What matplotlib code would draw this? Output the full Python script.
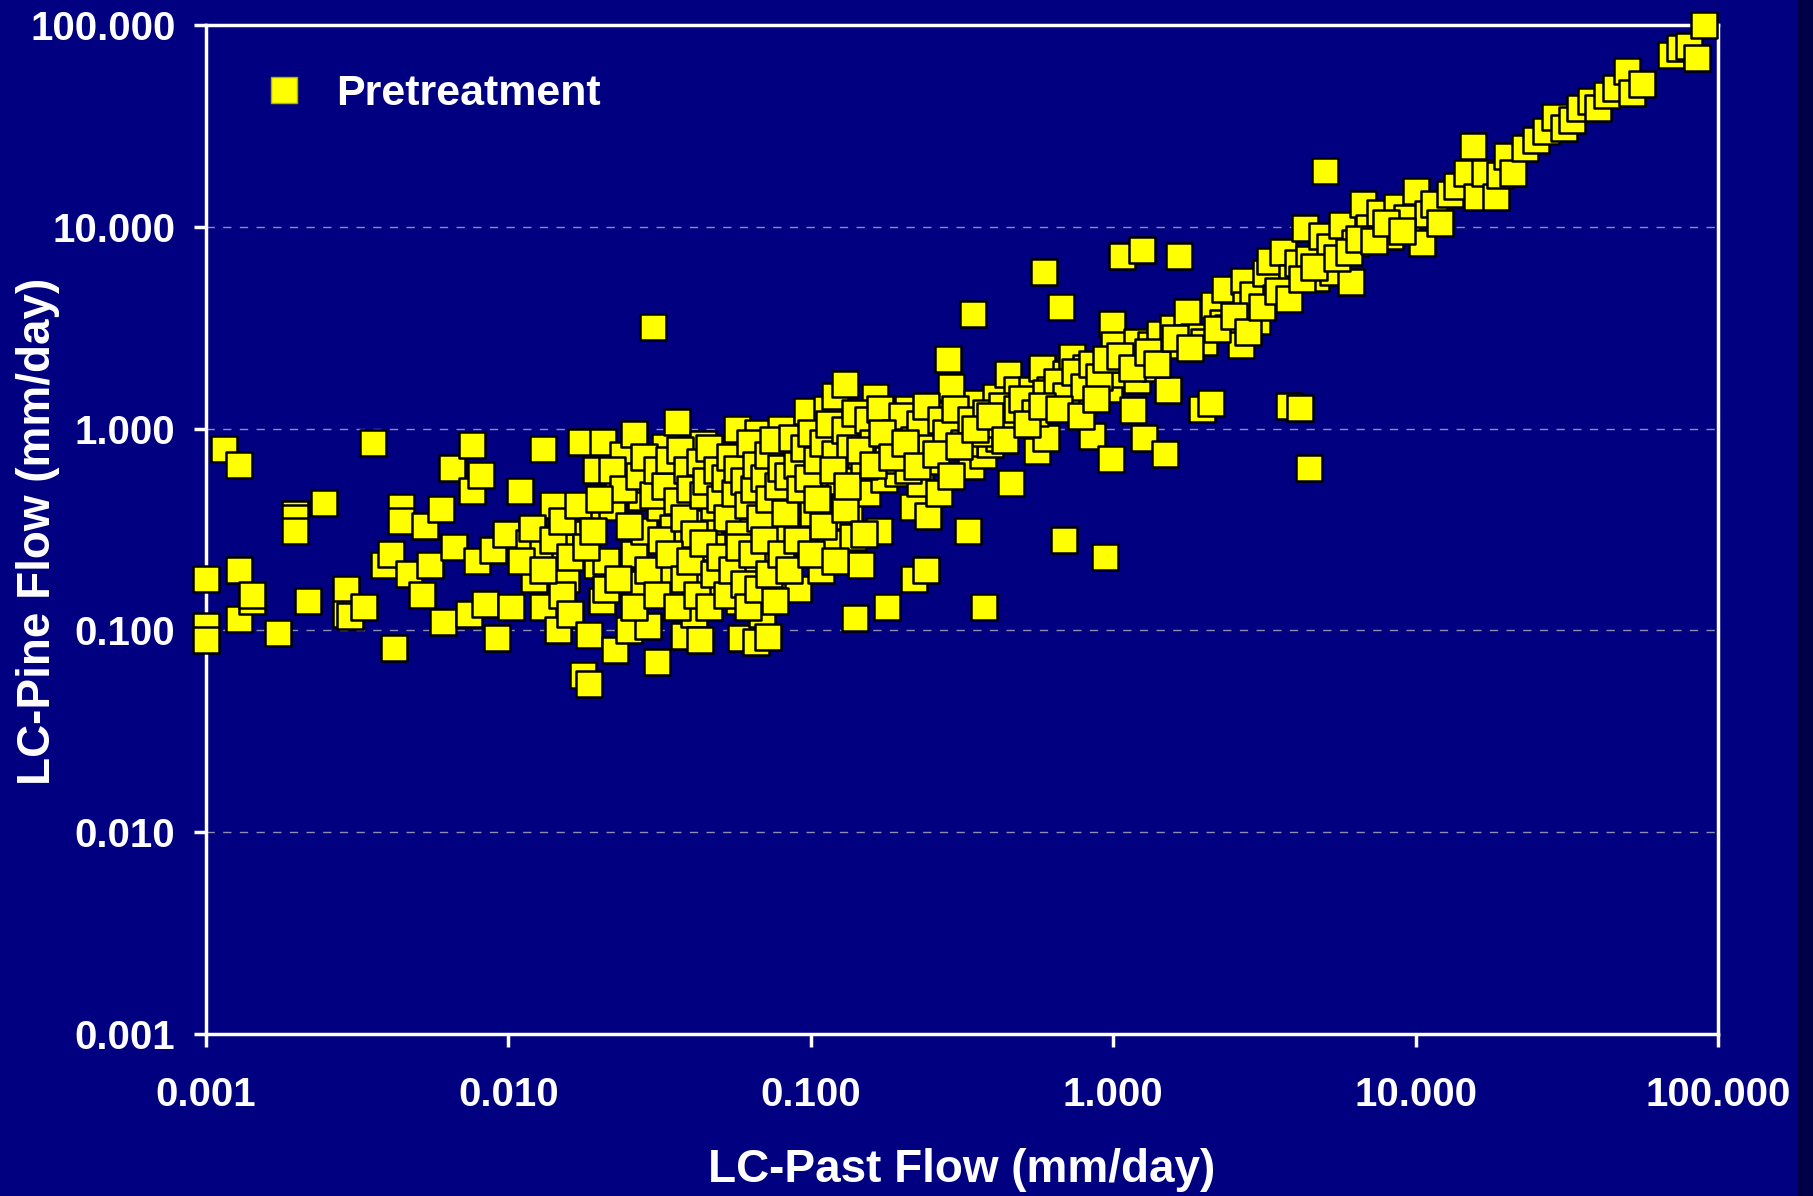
import matplotlib.pyplot as plt
from matplotlib.lines import Line2D
from matplotlib.patches import Rectangle

plt.rcParams['font.family'] = ['Liberation Sans', 'DejaVu Sans']
plt.rcParams['font.weight'] = 'bold'

# LC-Past flow (x) vs LC-Pine flow (y), mm/day
past_flow = [
    0.001, 0.001, 0.001, 0.00115, 0.00129, 0.00129, 0.00129, 0.00142, 0.00142, 0.00173,
    0.00197, 0.00197, 0.00197, 0.00217, 0.00245, 0.0029, 0.0029, 0.0030, 0.00334, 0.00358,
    0.00388, 0.0041, 0.0042, 0.0044, 0.0044, 0.0047, 0.0052, 0.0053, 0.0055, 0.0060,
    0.0061, 0.0065, 0.0066, 0.0074, 0.0076, 0.0076, 0.0081, 0.0079, 0.0084, 0.0089,
    0.0092,
    0.0098, 0.0102, 0.0109, 0.0117, 0.0122, 0.013, 0.013, 0.013, 0.0141, 0.0146,
    0.0154, 0.0155, 0.015, 0.016, 0.0174, 0.0177, 0.018, 0.0185, 0.0185, 0.019,
    0.0195, 0.0196, 0.0205, 0.0204, 0.021, 0.022, 0.0226, 0.023, 0.024, 0.025,
    0.026, 0.026, 0.027, 0.0275, 0.028, 0.029, 0.029, 0.030, 0.031, 0.0318,
    0.033, 0.034, 0.035, 0.036, 0.034, 0.037, 0.038, 0.039, 0.041, 0.042,
    0.043, 0.044, 0.045, 0.046, 0.048, 0.049, 0.051, 0.052, 0.055, 0.057,
    0.058, 0.059, 0.061, 0.063, 0.064, 0.066, 0.067, 0.069, 0.071, 0.072,
    0.074, 0.076, 0.077, 0.08, 0.083, 0.086, 0.089, 0.091, 0.094,
    0.097, 0.102, 0.108, 0.113, 0.115, 0.117, 0.12, 0.126, 0.13, 0.134,
    0.138, 0.138, 0.14, 0.147, 0.154, 0.157, 0.163, 0.168, 0.175, 0.178,
    0.188, 0.195, 0.2, 0.21, 0.217, 0.22, 0.23, 0.24, 0.245, 0.25,
    0.26, 0.265, 0.285, 0.29, 0.3, 0.315, 0.33, 0.34, 0.345, 0.355,
    0.37, 0.375, 0.39, 0.41, 0.42, 0.45, 0.46, 0.48, 0.51, 0.54,
    0.56, 0.58, 0.59, 0.6, 0.62, 0.65, 0.67, 0.69, 0.7, 0.73,
    0.76, 0.79, 0.81, 0.85, 0.89, 0.94, 0.97, 0.98, 0.99,
    1.01, 1.07, 1.07, 1.11, 1.16, 1.2, 1.2, 1.25, 1.26, 1.33,
    1.38, 1.43, 1.48, 1.52, 1.58, 1.65, 1.69, 1.75, 1.85, 1.96,
    2.0, 2.1, 2.15, 2.3, 2.35, 2.4, 2.65, 2.7, 2.75, 2.9,
    3.0, 3.2, 3.3, 3.45, 3.65, 3.8, 3.9, 4.1, 4.15, 4.3,
    4.45, 4.45, 4.7, 4.9, 5.0, 5.2, 5.35, 5.7, 6.1, 6.3,
    6.7, 7.0, 7.6, 8.2, 8.7, 9.4, 10.0,
    10.5, 11, 11.5, 12, 13, 13.7, 14.8, 15.5, 16, 17,
    18.5, 19, 20, 21, 23, 25, 27, 29, 31, 33,
    35, 38, 40, 43, 46, 50, 52, 56, 70, 75,
    80, 85, 90,
    # dense upper band
    0.022, 0.024, 0.025, 0.027, 0.028, 0.030, 0.031, 0.032, 0.033, 0.034,
    0.036, 0.037, 0.038, 0.039, 0.040, 0.041, 0.043, 0.044, 0.045, 0.046,
    0.047, 0.049, 0.050, 0.052, 0.053, 0.054, 0.056, 0.057, 0.058, 0.060,
    0.062, 0.063, 0.065, 0.066, 0.068, 0.070, 0.072, 0.073, 0.075, 0.078,
    0.080, 0.082, 0.084, 0.087, 0.090, 0.092, 0.095, 0.098, 0.10, 0.105,
    0.11, 0.115, 0.12, 0.125, 0.13, 0.135, 0.14, 0.15, 0.155, 0.16,
    0.17, 0.18, 0.19, 0.20, 0.21, 0.22, 0.23, 0.24, 0.25, 0.27,
    0.28, 0.30, 0.32, 0.34, 0.36, 0.38, 0.40, 0.43, 0.45, 0.48,
    0.50, 0.55, 0.60, 0.65, 0.70, 0.75, 0.80, 0.85, 0.90, 0.95,
    # dense lower band
    0.021, 0.023, 0.026, 0.029, 0.031, 0.034, 0.036, 0.038, 0.040, 0.042,
    0.044, 0.046, 0.048, 0.050, 0.053, 0.055, 0.058, 0.060, 0.062, 0.064,
    0.067, 0.070, 0.073, 0.076, 0.080, 0.085, 0.090, 0.10, 0.11, 0.12,
    0.13, 0.15,
    0.011, 0.012, 0.013, 0.014, 0.015, 0.016, 0.017, 0.018, 0.019, 0.02,
    # 1-10 band
    1.05, 1.15, 1.3, 1.4, 1.6, 1.8, 2.2, 2.5, 2.8, 3.1,
    3.5, 3.8, 4.2, 4.6, 5.5, 6.0, 6.5, 7.3, 8.0, 9.0,
    # extra fill in the 0.1-1 band
    0.105, 0.118, 0.132, 0.145, 0.16, 0.172, 0.185, 0.205, 0.225, 0.26,
    0.29, 0.31, 0.35, 0.39, 0.44, 0.52, 0.58, 0.66, 0.78, 0.88,
]
pine_flow = [
    0.18, 0.105, 0.09, 0.79, 0.66, 0.2, 0.114, 0.14, 0.15, 0.097,
    0.377, 0.36, 0.31, 0.14, 0.43, 0.16, 0.12, 0.118, 0.13, 0.85,
    0.21, 0.24, 0.082, 0.41, 0.35, 0.19, 0.15, 0.33, 0.21, 0.40,
    0.11, 0.64, 0.26, 0.12, 0.83, 0.49, 0.59, 0.22, 0.135, 0.25,
    0.092,
    0.30, 0.13, 0.49, 0.27, 0.18, 0.79, 0.26, 0.13, 0.42, 0.10,
    0.26, 0.18, 0.15, 0.12, 0.86, 0.06, 0.3, 0.054, 0.095, 0.37,
    0.62, 0.21, 0.86, 0.14, 0.16, 0.41, 0.08, 0.54, 0.74, 0.10,
    0.94, 0.24, 0.17, 0.46, 0.31, 0.105, 0.56, 3.2, 0.07, 0.41,
    0.81, 0.16, 0.32, 1.08, 0.2, 0.53, 0.094, 0.27, 0.12, 0.60,
    0.09, 0.84, 0.20, 0.34, 0.41, 0.16, 0.69, 0.25, 0.53, 0.99,
    0.14, 0.092, 0.31, 0.71, 0.21, 0.088, 0.95, 0.12, 0.42, 0.093,
    0.21, 0.6, 0.31, 1.0, 0.18, 0.77, 0.41, 0.16, 0.28,
    1.22, 0.38, 0.2, 1.25, 0.6, 0.27, 1.45, 0.9, 1.67, 0.37,
    0.69, 0.29, 0.115, 0.21, 0.48, 0.9, 1.43, 0.31, 0.56, 0.13,
    1.03, 0.6, 0.78, 1.25, 0.41, 0.18, 0.54, 0.2, 0.37, 0.69,
    1.17, 0.48, 2.2, 1.6, 0.9, 1.17, 0.31, 0.65, 3.7, 1.34,
    0.74, 0.13, 0.84, 1.43, 0.9, 1.86, 0.54, 1.56, 1.22, 1.56,
    0.77, 1.99, 6.0, 0.9, 1.56, 1.34, 4.0, 0.28, 1.86, 2.27,
    1.56, 1.34, 2.0, 0.92, 1.7, 0.23, 1.57, 0.71, 3.3,
    2.6, 1.86, 7.2, 2.2, 1.24, 2.7, 1.74, 7.7, 0.9, 2.6,
    2.0, 2.95, 0.75, 1.56, 3.15, 7.2, 2.6, 3.8, 2.84, 1.25,
    2.7, 1.34, 4.1, 3.35, 4.9, 3.15, 2.6, 5.4, 4.1, 4.6,
    3.4, 5.9, 6.8, 4.45, 7.5, 1.3, 5.6, 6.6, 1.27, 9.9,
    0.64, 6.9, 5.6, 9.0, 19, 7.9, 6.0, 10.2, 5.3, 8.3,
    13, 9.9, 11.7, 9, 12.6, 11, 15,
    8.3, 11.6, 13, 10.5, 14.5, 16, 18.5, 25, 14, 18.5,
    14, 18, 22.5, 18.5, 24.5, 27, 30, 35, 31, 34,
    39, 42, 39, 45, 49, 59, 46, 51, 71, 77,
    79, 69, 100,
    0.62, 0.50, 0.33, 0.58, 0.72, 0.47, 0.62, 0.28, 0.52, 0.70,
    0.44, 0.78, 0.36, 0.62, 0.50, 0.30, 0.68, 0.47, 0.55, 0.80,
    0.26, 0.62, 0.45, 0.57, 0.36, 0.72, 0.48, 0.63, 0.30, 0.55,
    0.42, 0.85, 0.50, 0.66, 0.36, 0.57, 0.74, 0.45, 0.88, 0.52,
    0.64, 0.38, 0.58, 0.90, 0.66, 0.50, 0.80, 0.57, 0.95, 0.70,
    0.85, 1.05, 0.75, 0.55, 0.98, 0.80, 1.2, 0.65, 1.1, 0.85,
    1.25, 0.70, 0.95, 1.15, 0.62, 0.88, 1.05, 1.3, 0.80, 1.1,
    0.95, 1.25, 0.85, 1.1, 0.95, 1.2, 1.05, 1.3, 1.1, 1.25,
    1.4, 1.2, 1.5, 1.7, 1.45, 1.9, 1.6, 2.1, 1.8, 2.2,
    0.22, 0.18, 0.13, 0.20, 0.15, 0.24, 0.13, 0.18, 0.22, 0.15,
    0.27, 0.13, 0.19, 0.23, 0.15, 0.20, 0.26, 0.17, 0.13, 0.24,
    0.16, 0.28, 0.19, 0.14, 0.24, 0.20, 0.28, 0.24, 0.33, 0.22,
    0.40, 0.30,
    0.22, 0.32, 0.20, 0.28, 0.35, 0.23, 0.42, 0.26, 0.31, 0.45,
    2.3, 2.0, 2.4, 2.1, 2.8, 2.5, 3.1, 3.6, 3.0, 4.0,
    4.8, 4.4, 5.5, 6.3, 7.0, 7.5, 8.7, 8.5, 10.5, 9.5,
    0.45, 0.62, 0.52, 0.78, 0.66, 0.95, 0.72, 0.85, 0.65, 0.75,
    0.58, 0.82, 1.0, 1.15, 0.88, 1.05, 1.3, 1.25, 1.15, 1.4,
]

x_ticks = [0.001, 0.01, 0.1, 1, 10, 100]
x_tick_labels = ['0.001', '0.010', '0.100', '1.000', '10.000', '100.000']
y_ticks = [0.001, 0.01, 0.1, 1, 10, 100]
y_tick_labels = ['0.001', '0.010', '0.100', '1.000', '10.000', '100.000']

navy = '#000080'
fig = plt.figure(figsize=(18.13, 11.96), dpi=100, facecolor=navy)
fig.patches.append(Rectangle((0.992, 0), 0.008, 1, transform=fig.transFigure,
                             color='#000048', zorder=0))
ax = fig.add_axes([0.1136, 0.1355, 0.834, 0.8436], facecolor=navy)

ax.scatter(past_flow, pine_flow, marker='s', s=340, c='#ffff00',
           edgecolors='black', linewidths=1.8, zorder=3, clip_on=False)

ax.set_xscale('log')
ax.set_yscale('log')
ax.set_xlim(0.001, 100)
ax.set_ylim(0.001, 100)
ax.set_xticks(x_ticks)
ax.set_xticklabels(x_tick_labels)
ax.set_yticks(y_ticks)
ax.set_yticklabels(y_tick_labels)
ax.minorticks_off()

for v in [0.01, 0.1, 1, 10]:
    ax.axhline(v, color='#8c8cb4', lw=1.0, ls=(0, (6, 6)), zorder=1)

for s in ax.spines.values():
    s.set_color('white')
    s.set_linewidth(2.5)
    s.set_zorder(2)

ax.tick_params(colors='white', labelsize=29, width=2.5, length=9, direction='out')
ax.tick_params(axis='x', pad=21)
ax.tick_params(axis='y', pad=13)
for lab in ax.get_xticklabels() + ax.get_yticklabels():
    lab.set_fontweight('bold')

fig.text(0.5306, 0.0217, 'LC-Past Flow (mm/day)', color='white', fontsize=33,
         fontweight='bold', ha='center', va='center')
fig.text(0.021, 0.556, 'LC-Pine Flow (mm/day)', color='white', fontsize=33,
         fontweight='bold', ha='center', va='center', rotation=90)

handle = Line2D([], [], marker='s', ls='none', markersize=19, markerfacecolor='#ffff00',
                markeredgecolor='#b0b000', markeredgewidth=1)
leg = ax.legend([handle], ['Pretreatment'], loc='upper left', bbox_to_anchor=(0.012, 0.99),
                frameon=False, fontsize=31, handletextpad=0.7, handlelength=1.0)
for t in leg.get_texts():
    t.set_color('white')
    t.set_fontweight('bold')

fig.savefig('out.png', dpi=100, facecolor=navy)
